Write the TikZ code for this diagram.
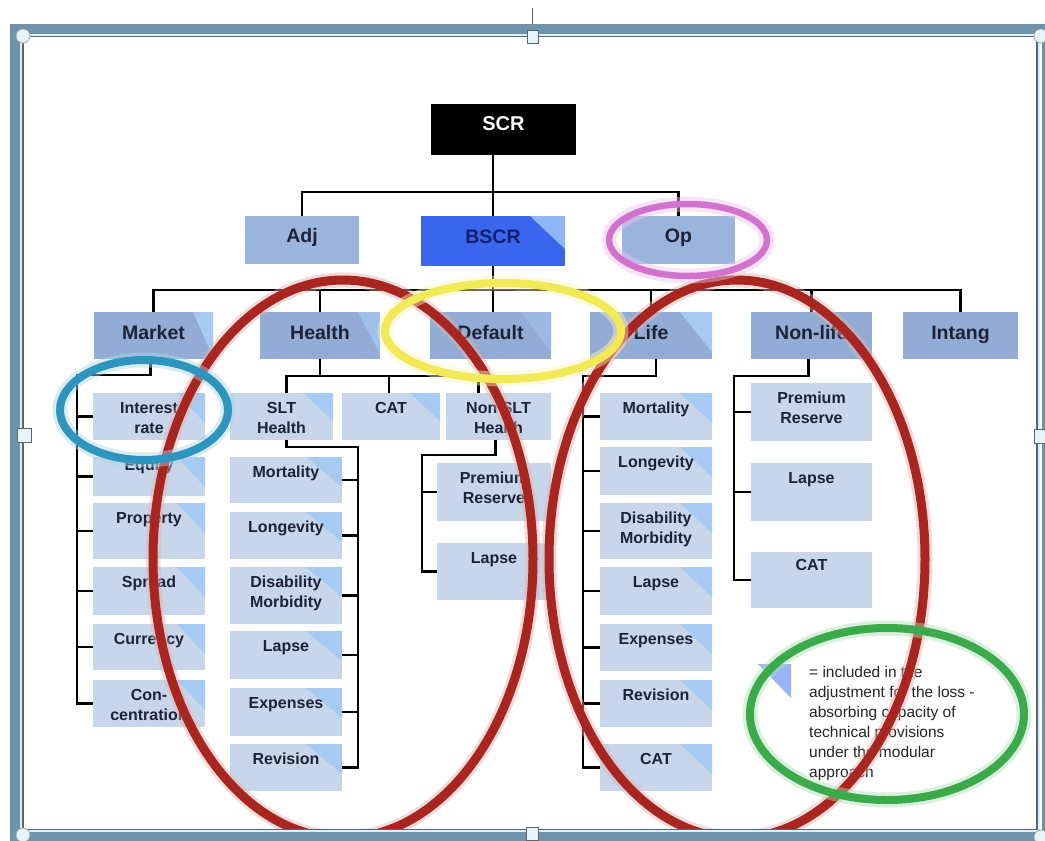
\documentclass[tikz,border=0pt]{standalone}
\usepackage{fontspec}
\setmainfont{Liberation Sans}
\definecolor{band}{HTML}{6E93AB}
\definecolor{bandlight}{HTML}{DCEFF6}
\definecolor{banddark}{HTML}{5A6570}
\definecolor{handle}{HTML}{E6F3F9}
\definecolor{topbox}{HTML}{9AB4DC}
\definecolor{midbox}{HTML}{93ACD5}
\definecolor{childbox}{HTML}{C7D6EB}
\definecolor{tribox}{HTML}{A6CAF2}
\definecolor{bscrc}{HTML}{3A65EE}
\definecolor{bscrtri}{HTML}{8FB6F4}
\definecolor{txt}{HTML}{1C2238}
\definecolor{bscrtxt}{HTML}{14206E}
\definecolor{ered}{HTML}{A8261F}
\definecolor{eblue}{HTML}{2E96BE}
\definecolor{eyellow}{HTML}{F2E957}
\definecolor{epink}{HTML}{D272CF}
\definecolor{egreen}{HTML}{3BAA4B}
\newcommand\mybox[6]{%
  \node[#2, minimum width={(#5-#3)*1pt}, minimum height={(#6-#4)*1pt}] (#1) at ({(#3+#5)/2},{(#4+#6)/2}) {};}
\newcommand\mytri[4]{%
  \fill[#4] (#1.north east) -- ([xshift=-#2pt]#1.north east) -- ([yshift=-#3pt]#1.north east) -- cycle;}
\newcommand\clab[2]{%
  \node[ctext] (#1-t) at ([yshift=-9pt]#1.north) {#2};}
\newcommand\mlab[2]{%
  \node[mtext] (#1-t) at ([yshift=-4pt]#1.center) {#2};}
\begin{document}
\begin{tikzpicture}[x=1pt,y=-1pt,
  boxbase/.style={rectangle, draw=none, inner sep=0pt, outer sep=0pt},
  topb/.style={boxbase, fill=topbox},
  midb/.style={boxbase, fill=midbox},
  childb/.style={boxbase, fill=childbox},
  conn/.style={draw=black, line width=2.2pt},
  tick/.style={draw=black, line width=2.6pt},
  ctext/.style={anchor=north, align=center, inner sep=0pt,
    font=\fontsize{16}{20}\selectfont\bfseries, text=txt},
  mtext/.style={anchor=base, inner sep=0pt, font=\fontsize{19.5}{22}\selectfont\bfseries, text=txt},
  ell/.style={line width=8pt},
  halo/.style={line width=15pt, opacity=0.45}]
\useasboundingbox (0,0) rectangle (1045,841);
\fill[white] (0,0) rectangle (1045,841);

% ---------- top level ----------
\mybox{scr}{boxbase, fill=black}{431}{104}{576}{155}
\node[anchor=base, inner sep=0pt, font=\fontsize{20}{22}\selectfont\bfseries, text=white] (scr-t) at ([yshift=-1pt]scr.center) {SCR};
\mybox{adj}{topb}{245}{216}{359}{264}
\mybox{bscr}{boxbase, fill=bscrc}{421}{216}{565}{266}
\mytri{bscr}{35}{33}{bscrtri}
\mybox{op}{topb}{622}{216}{735}{264}
\node[mtext] (adj-t) at ([yshift=-2pt]adj.center) {Adj};
\node[mtext, text=bscrtxt] (bscr-t) at ([yshift=-2pt]bscr.center) {BSCR};
\node[mtext] (op-t) at ([yshift=-2pt]op.center) {Op};

\coordinate (busA) at (495,192);
\draw[conn] (bscr.north) -- (bscr.north |- scr.south);
\draw[conn] (adj.north) |- (busA) -| (op.north);

% ---------- second row ----------
\mybox{mkt}{midb}{94}{312}{213}{359}
\mytri{mkt}{20}{45}{tribox}
\mybox{health}{midb}{260}{312}{380}{359}
\mytri{health}{22}{42}{tribox!70!midbox}
\mybox{default}{midb}{430}{312}{551}{359}
\mytri{default}{30}{40}{tribox!45!midbox}
\mybox{life}{midb}{590}{312}{712}{359}
\mytri{life}{32}{40}{tribox}
\mybox{nonlife}{midb}{751}{312}{872}{359}
\mybox{intang}{midb}{903}{312}{1018}{359}
\mlab{mkt}{Market}
\mlab{health}{Health}
\mlab{default}{Default}
\mlab{life}{Life}
\mlab{nonlife}{Non-life}
\mlab{intang}{Intang}

\coordinate (busB) at (495,290);
\draw[conn] (bscr.south) -- (bscr.south |- default.north);
\draw[conn] (mkt.north) |- (busB) -| (intang.north);
\draw[conn] (health.north) -- (health.north |- busB);
\draw[conn] (life.north) -- (life.north |- busB);
\draw[conn] (nonlife.north) -- (nonlife.north |- busB);

% ---------- market children ----------
\mybox{ir}{childb}{93}{393}{205}{440}
\mybox{eq}{childb}{93}{457}{205}{496}
\mybox{prop}{childb}{93}{503}{205}{559}
\mybox{spread}{childb}{93}{567}{205}{615}
\mybox{curr}{childb}{93}{624}{205}{670}
\mybox{conc}{childb}{93}{680}{205}{727}
\foreach \n in {ir,eq,prop,spread,curr,conc}{\mytri{\n}{28}{30}{tribox}}
\clab{ir}{Interest\\rate}
\node[ctext] (eq-t) at ([yshift=-2pt]eq.north) {Equity};
\clab{prop}{Property}
\clab{spread}{Spread}
\clab{curr}{Currency}
\clab{conc}{Con-\\centration}
\coordinate (mspine) at (77,375);
\draw[conn] ([xshift=-3pt]mkt.south) |- (mspine) |- (conc.west);
\foreach \n in {ir,eq,prop,spread,curr}{\draw[tick] (\n.west) -- (\n.west -| mspine);}

% ---------- health children ----------
\mybox{slt}{childb}{230}{393}{333}{440}
\mytri{slt}{30}{28}{tribox}
\mybox{cat1}{childb}{342}{393}{440}{440}
\mytri{cat1}{30}{28}{tribox}
\mybox{nslt}{childb}{446}{393}{551}{440}
\clab{slt}{SLT\\Health}
\clab{cat1}{CAT}
\clab{nslt}{Non SLT\\Health}
\coordinate (hb) at (317,376);
\draw[conn] (health.south) -- (health.south |- hb);
\draw[conn] ([xshift=5pt]slt.north) |- ([xshift=-20pt]nslt.north |- hb) -- ([xshift=-20pt]nslt.north);
\draw[conn] ([xshift=-2pt]cat1.north) -- ([xshift=-2pt]cat1.north |- hb);

\mybox{mort1}{childb}{230}{457}{342}{503}
\mybox{long1}{childb}{230}{512}{342}{559}
\mybox{dis1}{childb}{230}{567}{342}{624}
\mybox{lapse1}{childb}{230}{631}{342}{679}
\mybox{exp1}{childb}{230}{688}{342}{736}
\mybox{rev1}{childb}{230}{744}{342}{791}
\foreach \n in {mort1,long1,dis1,lapse1,exp1,rev1}{\mytri{\n}{36}{30}{tribox}}
\clab{mort1}{Mortality}
\clab{long1}{Longevity}
\clab{dis1}{Disability\\Morbidity}
\clab{lapse1}{Lapse}
\clab{exp1}{Expenses}
\clab{rev1}{Revision}
\coordinate (sspine) at (358,447);
\draw[conn] ([xshift=5pt]slt.south) |- (sspine) |- (rev1.east);
\foreach \n in {mort1,long1,dis1,lapse1,exp1}{\draw[tick] (\n.east) -- (\n.east -| sspine);}

\mybox{prem1}{childb}{437}{463}{551}{521}
\mybox{lapse2}{childb}{437}{543}{551}{600}
\clab{prem1}{Premium\\Reserve}
\clab{lapse2}{Lapse}
\coordinate (nspine) at (422,455);
\draw[conn] ([xshift=-3pt]nslt.south) |- (nspine) |- (lapse2.west);
\draw[tick] (prem1.west) -- (prem1.west -| nspine);

% ---------- life children ----------
\mybox{mort2}{childb}{600}{393}{712}{440}
\mybox{long2}{childb}{600}{447}{712}{495}
\mybox{dis2}{childb}{600}{503}{712}{559}
\mybox{lapse3}{childb}{600}{567}{712}{615}
\mybox{exp2}{childb}{600}{624}{712}{671}
\mybox{rev2}{childb}{600}{680}{712}{727}
\mybox{cat2}{childb}{600}{744}{712}{791}
\foreach \n in {mort2,long2,dis2,lapse3,exp2,rev2,cat2}{\mytri{\n}{32}{30}{tribox}}
\clab{mort2}{Mortality}
\clab{long2}{Longevity}
\clab{dis2}{Disability\\Morbidity}
\clab{lapse3}{Lapse}
\clab{exp2}{Expenses}
\clab{rev2}{Revision}
\clab{cat2}{CAT}
\coordinate (lspine) at (583,376);
\draw[conn] ([xshift=5pt]life.south) |- (lspine) |- (cat2.west);
\foreach \n in {mort2,long2,dis2,lapse3,exp2,rev2}{\draw[tick] (\n.west) -- (\n.west -| lspine);}

% ---------- non-life children ----------
\mybox{prem2}{childb}{751}{383}{872}{441}
\mybox{lapse4}{childb}{751}{463}{872}{521}
\mybox{cat3}{childb}{751}{552}{872}{608}
\clab{prem2}{Premium\\Reserve}
\clab{lapse4}{Lapse}
\node[ctext] (cat3-t) at ([yshift=-7pt]cat3.north) {CAT};
\coordinate (nlspine) at (734,376);
\draw[conn] ([xshift=-3pt]nonlife.south) |- (nlspine) |- (cat3.west);
\foreach \n in {prem2,lapse4}{\draw[tick] (\n.west) -- (\n.west -| nlspine);}

% ---------- legend ----------
\fill[tribox!85!blue!90!white] (758,664) -- (791,664) -- (791,698) -- cycle;
\node[anchor=north west, align=left, inner sep=0pt,
  font=\fontsize{15.5}{20}\selectfont, text=black!85] (legend) at (809,666)
  {= included in the\\adjustment for the loss -\\absorbing capacity of\\technical provisions\\under the modular\\approach};

% ---------- ellipses ----------
\draw[halo, ered!35] (343,559) ellipse [x radius=190pt, y radius=279pt];
\draw[halo, ered!35] (737,559) ellipse [x radius=188pt, y radius=279pt];
\draw[ell, line width=9pt, ered] (343,559) ellipse [x radius=190pt, y radius=279pt];
\draw[ell, line width=9pt, ered] (737,559) ellipse [x radius=188pt, y radius=279pt];
\draw[halo, eyellow!40] (503,331) ellipse [x radius=118pt, y radius=48pt];
\draw[ell, eyellow] (503,331) ellipse [x radius=118pt, y radius=48pt];
\draw[halo, eblue!40] (144,410) ellipse [x radius=84pt, y radius=50pt];
\draw[ell, eblue] (144,410) ellipse [x radius=84pt, y radius=50pt];
\draw[halo, epink!40] (688,240) ellipse [x radius=79pt, y radius=36pt];
\draw[ell, line width=6.5pt, epink] (688,240) ellipse [x radius=79pt, y radius=36pt];
\draw[halo, egreen!40] (887,714) ellipse [x radius=137pt, y radius=86pt];
\draw[ell, egreen] (887,714) ellipse [x radius=137pt, y radius=86pt];

% ---------- selection frame ----------
\draw[banddark, line width=1pt] (532,8) -- (532,30);
\draw[band, line width=10pt] (15,28.5) rectangle (1047,837);
\draw[bandlight, line width=2pt] (21,34.5) rectangle (1039,831);
\draw[banddark, line width=1.5pt] (23.2,36.5) rectangle (1037,829.5);
\foreach \p in {(23,36),(1041,36),(23,835),(1041,837)}{
  \filldraw[fill=handle, draw=gray!70, line width=0.8pt] \p circle[radius=7pt];}
\filldraw[fill=handle, draw=banddark, line width=0.8pt] (527,30) rectangle (538,43);
\filldraw[fill=handle, draw=banddark, line width=0.8pt] (17,428) rectangle (31,442);
\filldraw[fill=handle, draw=banddark, line width=0.8pt] (1034,429) rectangle (1046,443);
\filldraw[fill=handle, draw=banddark, line width=0.8pt] (526,827) rectangle (538,840);
\end{tikzpicture}
\end{document}
